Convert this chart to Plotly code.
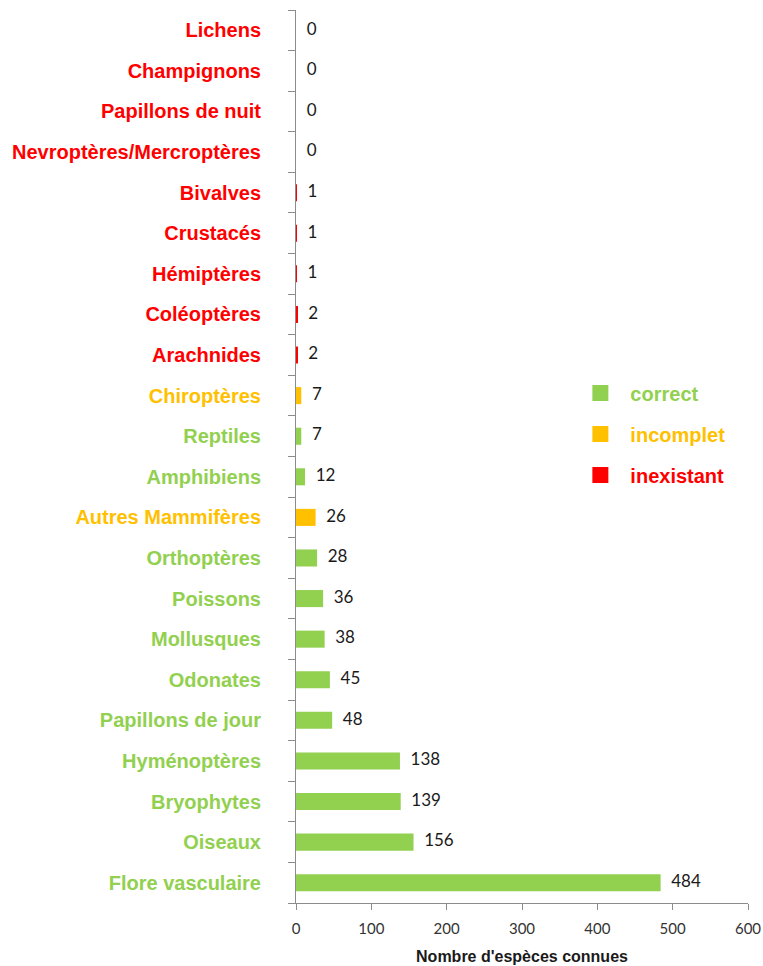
import plotly.graph_objects as go

categories = ["Flore vasculaire", "Oiseaux", "Bryophytes", "Hyménoptères", "Papillons de jour",
              "Odonates", "Mollusques", "Poissons", "Orthoptères", "Autres Mammifères",
              "Amphibiens", "Reptiles", "Chiroptères", "Arachnides", "Coléoptères",
              "Hémiptères", "Crustacés", "Bivalves", "Nevroptères/Mercroptères",
              "Papillons de nuit", "Champignons", "Lichens"]
values = [484, 156, 139, 138, 48, 45, 38, 36, 28, 26, 12, 7, 7, 2, 2, 1, 1, 1, 0, 0, 0, 0]
status = ["correct", "correct", "correct", "correct", "correct", "correct", "correct",
          "correct", "correct", "incomplet", "correct", "correct", "incomplet",
          "inexistant", "inexistant", "inexistant", "inexistant", "inexistant",
          "inexistant", "inexistant", "inexistant", "inexistant"]
status_names = ["correct", "incomplet", "inexistant"]
status_colors = {"correct": "#92D050", "incomplet": "#FFC000", "inexistant": "#FF0000"}
x_ticks = [0, 100, 200, 300, 400, 500, 600]

fig = go.Figure()
for s in status_names:
    ys = [c for c, st in zip(categories, status) if st == s]
    xs = [v for v, st in zip(values, status) if st == s]
    fig.add_trace(go.Bar(
        y=ys, x=xs, orientation="h", width=0.42,
        marker=dict(color=status_colors[s], line=dict(width=0)),
        name=s, legendgroup=s, showlegend=False,
    ))
    # legend entry
    fig.add_trace(go.Scatter(
        x=[None], y=[None], mode="markers",
        marker=dict(symbol="square", size=17, color=status_colors[s]),
        name=f"<span style='color:{status_colors[s]}'><b>{s}</b></span>",
        legendgroup=s, showlegend=True, hoverinfo="skip",
    ))

fig.add_trace(go.Scatter(
    y=categories, x=values, mode="text",
    text=["\u2002\u2009" + str(v) for v in values],
    textposition="middle right",
    textfont=dict(family="Lato, Open Sans, sans-serif", size=17, color="#1a1a1a"),
    showlegend=False, hoverinfo="skip", cliponaxis=False,
))

ticktext = [f"<span style='color:{status_colors[s]}'><b>{c}</b></span>" for c, s in zip(categories, status)]

fig.update_layout(
    width=763, height=966,
    margin=dict(l=296, r=15, t=10, b=63, autoexpand=False),
    plot_bgcolor="white", paper_bgcolor="white",
    barmode="overlay",
    showlegend=True,
    legend=dict(
        x=0.607, y=0.593, xanchor="left", yanchor="top",
        font=dict(family="Liberation Sans, Arial, sans-serif", size=20),
        tracegroupgap=12, itemwidth=50, bgcolor="rgba(0,0,0,0)",
        traceorder="grouped",
    ),
    font=dict(family="Liberation Sans, Arial, sans-serif"),
)
fig.update_yaxes(
    type="category", categoryorder="array", categoryarray=categories,
    tickmode="array", tickvals=categories, ticktext=ticktext,
    tickfont=dict(family="Liberation Sans, Arial, sans-serif", size=20),
    showline=True, linecolor="#8c8c8c", linewidth=1,
    ticks="outside", ticklen=7, tickcolor="#8c8c8c", tickson="boundaries",
    showgrid=False, ticklabelstandoff=30, range=[-0.5, 21.5], automargin=False,
)
fig.update_xaxes(
    range=[0, 600], tickvals=x_ticks,
    tickfont=dict(family="Lato, Open Sans, sans-serif", size=15, color="#333333"),
    showline=True, linecolor="#8c8c8c", linewidth=1,
    ticks="outside", ticklen=6, tickcolor="#8c8c8c", ticklabelstandoff=6,
    ticklabeloverflow="allow",
    showgrid=False, zeroline=False, automargin=False,
    title=dict(text="<b>Nombre d'espèces connues</b>",
               font=dict(family="Liberation Sans, Arial, sans-serif", size=16, color="#1a1a1a"),
               standoff=14),
)

fig.write_html("out.html", config={"displayModeBar": False},
               post_script="document.body.style.margin='0';document.body.style.overflow='hidden';")
